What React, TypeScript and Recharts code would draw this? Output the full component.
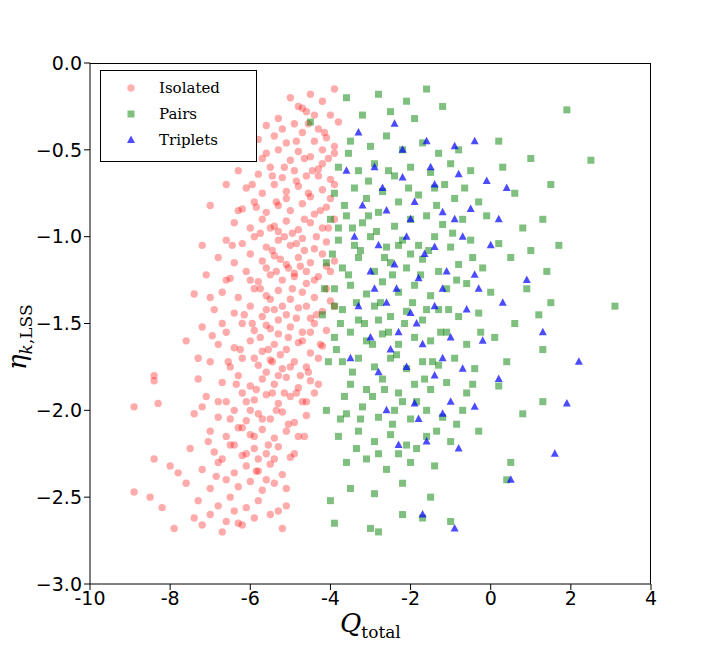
import React from 'react';
import { ScatterChart, Scatter, XAxis, YAxis } from 'recharts';

const isolated: [number, number][] = [
[-4.5,-0.18],[-4.2,-0.22],[-3.9,-0.15],[-4.8,-0.25],[-5.0,-0.2],[-4.4,-0.3],
[-5.3,-0.32],[-4.9,-0.35],[-4.6,-0.28],[-4.3,-0.38],[-4.0,-0.3],[-3.8,-0.34],[-5.6,-0.36],
[-5.8,-0.44],[-5.4,-0.42],[-5.1,-0.46],[-4.7,-0.4],[-4.4,-0.45],[-4.1,-0.43],[-3.9,-0.48],
[-6.0,-0.55],[-5.6,-0.52],[-5.3,-0.5],[-5.0,-0.56],[-4.8,-0.51],[-4.5,-0.54],[-4.2,-0.58],[-3.9,-0.52],
[-6.3,-0.62],[-5.8,-0.64],[-5.5,-0.6],[-5.2,-0.66],[-4.9,-0.62],[-4.6,-0.65],[-4.3,-0.61],[-4.0,-0.67],
[-6.1,-0.72],[-5.7,-0.75],[-5.4,-0.7],[-5.1,-0.74],[-4.8,-0.71],[-4.5,-0.77],[-4.2,-0.73],[-3.9,-0.7],[-6.6,-0.7],
[-7.0,-0.82],[-6.2,-0.84],[-5.9,-0.8],[-5.6,-0.86],[-5.3,-0.82],[-5.0,-0.85],[-4.7,-0.81],[-4.4,-0.87],[-4.1,-0.83],
[-6.4,-0.92],[-6.0,-0.95],[-5.7,-0.9],[-5.4,-0.94],[-5.1,-0.91],[-4.8,-0.96],[-4.5,-0.92],[-4.2,-0.95],[-3.9,-0.9],
[-6.6,-1.02],[-6.2,-1.04],[-5.9,-1.0],[-5.6,-1.06],[-5.3,-1.02],[-5.0,-1.05],[-4.7,-1.01],[-4.4,-1.07],[-4.1,-1.03],[-7.2,-1.05],
[-6.8,-1.12],[-6.4,-1.15],[-6.0,-1.1],[-5.7,-1.14],[-5.4,-1.11],[-5.1,-1.16],[-4.8,-1.12],[-4.5,-1.15],[-4.2,-1.1],[-3.9,-1.14],
[-7.1,-1.22],[-6.5,-1.24],[-6.1,-1.2],[-5.8,-1.26],[-5.5,-1.22],[-5.2,-1.25],[-4.9,-1.21],[-4.6,-1.27],[-4.3,-1.23],[-4.0,-1.2],
[-6.7,-1.32],[-6.3,-1.35],[-5.9,-1.3],[-5.6,-1.34],[-5.3,-1.31],[-5.0,-1.36],[-4.7,-1.32],[-4.4,-1.35],[-4.1,-1.3],[-7.4,-1.33],
[-6.9,-1.42],[-6.4,-1.44],[-6.0,-1.4],[-5.7,-1.46],[-5.4,-1.42],[-5.1,-1.45],[-4.8,-1.41],[-4.5,-1.47],[-4.2,-1.43],[-3.9,-1.4],
[-7.2,-1.52],[-6.6,-1.55],[-6.2,-1.5],[-5.9,-1.54],[-5.6,-1.51],[-5.3,-1.56],[-5.0,-1.52],[-4.7,-1.55],[-4.4,-1.5],[-4.1,-1.54],
[-6.8,-1.62],[-6.4,-1.64],[-6.0,-1.6],[-5.7,-1.66],[-5.4,-1.62],[-5.1,-1.65],[-4.8,-1.61],[-4.5,-1.67],[-4.2,-1.63],[-7.6,-1.6],
[-7.0,-1.72],[-6.5,-1.75],[-6.2,-1.7],[-5.8,-1.74],[-5.5,-1.71],[-5.2,-1.76],[-4.9,-1.72],[-4.6,-1.75],[-4.3,-1.7],
[-8.4,-1.8],[-8.4,-1.83],[-7.3,-1.82],[-6.7,-1.84],[-6.3,-1.8],[-6.0,-1.86],[-5.7,-1.82],[-5.4,-1.85],[-5.1,-1.81],[-4.8,-1.87],[-4.5,-1.83],
[-7.1,-1.92],[-6.6,-1.95],[-6.2,-1.9],[-5.9,-1.94],[-5.6,-1.91],[-5.3,-1.96],[-5.0,-1.92],[-4.7,-1.95],[-4.4,-1.9],
[-8.9,-1.98],[-8.3,-1.96],[-7.4,-2.02],[-6.8,-2.04],[-6.4,-2.0],[-6.1,-2.06],[-5.8,-2.02],[-5.5,-2.05],[-5.2,-2.01],[-4.9,-2.07],[-4.6,-2.03],
[-7.0,-2.12],[-6.6,-2.15],[-6.3,-2.1],[-6.0,-2.14],[-5.7,-2.11],[-5.4,-2.16],[-5.1,-2.12],[-4.8,-2.15],
[-7.5,-2.22],[-6.9,-2.24],[-6.5,-2.2],[-6.2,-2.26],[-5.9,-2.22],[-5.6,-2.25],[-5.3,-2.21],[-5.0,-2.27],
[-8.0,-2.32],[-7.8,-2.36],[-7.2,-2.34],[-6.8,-2.3],[-6.4,-2.36],[-6.1,-2.32],[-5.8,-2.35],[-5.5,-2.31],[-5.2,-2.37],
[-8.4,-2.28],[-7.6,-2.42],[-7.0,-2.45],[-6.6,-2.4],[-6.3,-2.44],[-6.0,-2.41],[-5.7,-2.46],[-5.4,-2.42],
[-8.5,-2.5],[-7.3,-2.52],[-6.8,-2.55],[-6.5,-2.5],[-6.1,-2.56],[-5.8,-2.52],[-5.1,-2.55],[-8.2,-2.56],
[-7.4,-2.62],[-7.0,-2.6],[-6.6,-2.64],[-6.3,-2.65],[-5.9,-2.62],[-5.5,-2.6],
[-7.9,-2.68],[-7.2,-2.66],[-6.7,-2.7],[-6.2,-2.66],[-5.2,-2.68],[-8.9,-2.47],
];

const isolatedCore: [number, number][] = [
[-5.5,-0.95],[-5.3,-0.97],[-5.15,-1.0],[-4.95,-0.98],[-4.85,-1.04],[-4.65,-1.08],[-5.45,-1.08],[-5.25,-1.13],[-5.05,-1.18],[-4.9,-1.23],
[-4.75,-1.17],[-4.6,-1.2],[-4.4,-1.25],[-5.35,-1.2],[-5.6,-1.18],[-5.75,-1.3],[-5.5,-1.36],[-5.2,-1.4],[-4.95,-1.3],[-4.6,-1.4],
[-4.35,-1.45],[-4.85,-1.47],[-5.3,-1.48],[-5.5,-1.53],[-5.75,-1.58],[-5.05,-1.58],[-4.7,-1.6],[-4.5,-1.55],[-5.25,-1.68],[-5.55,-1.65],
[-5.9,-1.7],[-5.6,-1.78],[-5.3,-1.8],[-5.0,-1.75],[-4.75,-1.8],[-4.55,-1.78],[-5.85,-1.88],[-5.45,-1.9],[-5.15,-1.9],[-4.85,-1.9],
[-6.1,-1.95],[-6.0,-2.0],[-5.7,-2.05],[-5.35,-2.0],[-5.05,-2.08],[-6.2,-2.1],[-5.9,-2.15],[-5.55,-2.2],[-6.4,-2.2],[-6.1,-2.25],
[-5.8,-2.28],[-5.4,-2.28],[-4.65,-0.9],[-4.35,-1.0],[-4.25,-0.85],[-4.55,-0.75],[-4.05,-0.95],[-4.3,-0.65],[-4.65,-0.55],[-4.05,-0.55],
[-4.15,-0.4],[-4.55,-0.35],[-4.85,-0.45],[-5.15,-0.6],[-5.35,-0.8],[-5.75,-0.98],[-6.0,-1.25],[-6.15,-1.45],[-5.95,-1.5],[-6.25,-1.65],
[-6.35,-1.85],[-6.5,-2.05],[-6.7,-2.28],[-6.8,-1.95],[-6.55,-1.72],[-6.7,-1.5],[-6.6,-1.25],[-6.45,-1.05],[-6.3,-0.85],[-5.95,-0.7],
[-5.7,-0.55],[-5.2,-0.38],[-4.7,-0.26],[-4.2,-0.5],[-4.0,-0.78],[-4.1,-1.17],[-4.0,-1.37],[-4.25,-1.62],[-4.3,-1.85],[-4.6,-1.95],
[-4.65,-2.15],[-4.9,-2.25],[-5.1,-2.45],[-5.6,-2.4],[-5.3,-2.58],[-6.4,-2.58],[-6.85,-2.38],[-7.05,-2.18],[-7.2,-1.98],[-7.3,-1.7],
[-7.0,-1.35],[-6.95,-1.57],[-5.1,-0.78],[-5.45,-0.65],[-5.85,-0.83],[-4.85,-0.68],[-4.45,-0.62],[-5.6,-1.42],[-5.45,-1.72],[-5.85,-2.35],
];

const pairs: [number, number][] = [
[-3.6,-0.2],[-2.8,-0.18],[-2.1,-0.22],[-1.6,-0.15],[-1.2,-0.25],[-4.5,-0.34],[-3.2,-0.3],[-2.5,-0.28],[-1.9,-0.32],
[-3.5,-0.45],[-3.0,-0.48],[-2.6,-0.42],[-2.2,-0.5],[-1.7,-0.46],[-1.3,-0.52],[-0.8,-0.5],[0.2,-0.45],[1.9,-0.27],[2.5,-0.56],
[-3.8,-0.6],[-3.3,-0.62],[-2.9,-0.58],[-2.4,-0.65],[-2.0,-0.6],[-1.5,-0.63],[-1.0,-0.58],[-0.5,-0.62],[0.3,-0.6],[1.0,-0.55],
[-3.9,-0.75],[-3.4,-0.72],[-3.1,-0.78],[-2.7,-0.74],[-2.3,-0.8],[-1.8,-0.76],[-1.4,-0.72],[-0.9,-0.78],[-0.3,-0.8],[0.6,-0.75],[1.5,-0.7],
[-4.0,-0.9],[-3.6,-0.88],[-3.2,-0.92],[-2.8,-0.86],[-2.4,-0.94],[-2.0,-0.9],[-1.6,-0.88],[-1.2,-0.93],[-0.7,-0.9],[-0.1,-0.88],[0.8,-0.95],[1.3,-0.9],
[-3.8,-1.02],[-3.4,-1.05],[-3.0,-1.0],[-2.6,-1.06],[-2.2,-1.02],[-1.8,-1.05],[-1.4,-1.0],[-1.0,-1.06],[-0.5,-1.02],[0.2,-1.04],[1.0,-1.08],[1.7,-1.05],
[-4.1,-1.15],[-3.7,-1.18],[-3.3,-1.12],[-2.9,-1.2],[-2.5,-1.15],[-2.1,-1.18],[-1.7,-1.13],[-1.3,-1.2],[-0.8,-1.16],[-0.2,-1.18],[0.5,-1.12],[1.4,-1.2],
[-3.9,-1.3],[-3.5,-1.28],[-3.1,-1.33],[-2.7,-1.26],[-2.3,-1.32],[-1.9,-1.28],[-1.5,-1.34],[-1.1,-1.3],[-0.6,-1.27],[0.0,-1.32],[0.9,-1.3],[1.5,-1.38],
[-4.2,-1.45],[-3.7,-1.42],[-3.3,-1.48],[-2.9,-1.4],[-2.5,-1.46],[-2.1,-1.43],[-1.7,-1.48],[-1.3,-1.42],[-0.8,-1.46],[-0.3,-1.44],[0.6,-1.5],[1.2,-1.45],[3.1,-1.4],
[-3.9,-1.58],[-3.5,-1.55],[-3.1,-1.6],[-2.7,-1.56],[-2.3,-1.62],[-1.9,-1.58],[-1.5,-1.6],[-1.1,-1.55],[-0.6,-1.62],[0.1,-1.58],[1.3,-1.65],
[-3.7,-1.72],[-3.3,-1.7],[-2.9,-1.75],[-2.5,-1.7],[-2.1,-1.76],[-1.7,-1.72],[-1.3,-1.74],[-0.9,-1.7],[-0.4,-1.76],[0.4,-1.72],
[-3.5,-1.85],[-3.1,-1.88],[-2.7,-1.82],[-2.3,-1.9],[-1.9,-1.85],[-1.5,-1.88],[-1.1,-1.84],[-0.6,-1.9],[0.2,-1.86],[1.3,-1.95],
[-4.1,-2.0],[-3.6,-2.02],[-3.2,-1.98],[-2.8,-2.04],[-2.4,-2.0],[-2.0,-2.05],[-1.6,-2.0],[-1.2,-2.04],[-0.7,-2.0],[0.8,-2.02],
[-3.8,-2.15],[-3.3,-2.12],[-2.9,-2.18],[-2.5,-2.14],[-2.1,-2.2],[-1.6,-2.15],[-1.0,-2.18],[-0.3,-2.12],
[-3.6,-2.3],[-3.1,-2.28],[-2.6,-2.34],[-2.0,-2.3],[-1.4,-2.32],[0.5,-2.3],
[-4.0,-2.52],[-3.5,-2.45],[-2.9,-2.48],[-2.2,-2.42],[-1.5,-2.5],[0.4,-2.4],
[-3.9,-2.65],[-3.0,-2.68],[-2.8,-2.7],[-2.2,-2.6],[-1.7,-2.62],[-1.0,-2.64],
];

const pairsCore: [number, number][] = [
[-3.65,-0.82],[-3.45,-0.95],[-3.25,-1.08],[-3.05,-0.88],[-2.85,-0.97],[-2.65,-1.12],[-2.45,-1.22],[-3.55,-1.22],[-3.35,-1.38],[-3.15,-1.5],
[-2.95,-1.62],[-2.75,-1.38],[-2.55,-1.55],[-2.35,-1.68],[-2.15,-1.5],[-1.95,-1.38],[-1.75,-1.22],[-1.55,-1.08],[-1.35,-0.82],[-2.05,-0.72],
[-2.55,-0.62],[-3.05,-0.68],[-3.55,-0.52],[-3.75,-1.5],[-3.85,-1.65],[-3.65,-1.92],[-3.45,-1.78],[-3.25,-2.05],[-2.95,-1.92],[-2.65,-1.88],
[-2.45,-2.08],[-2.2,-1.95],[-1.85,-1.95],[-1.65,-1.82],[-1.45,-1.72],[-1.25,-1.55],[-1.05,-1.42],[-0.85,-1.25],[-0.95,-0.98],[-1.15,-0.7],
[-0.65,-0.72],[-0.45,-1.12],[-0.25,-1.55],[-0.45,-1.85],[-0.85,-2.08],[-1.35,-2.12],[-1.85,-2.22],[-2.3,-2.25],[-2.8,-2.25],[-3.35,-2.22],
[-3.9,-1.4],[-3.95,-1.1],[-3.8,-0.95],[-4.15,-1.3],[-4.05,-1.72],[-3.75,-2.05],[-2.0,-1.1],[-1.6,-1.42],[-2.3,-1.05],[-2.8,-1.48],
];

const triplets: [number, number][] = [
[-3.3,-0.4],[-2.4,-0.35],[-1.6,-0.45],[-0.9,-0.48],[-0.4,-0.45],
[-3.6,-0.62],[-2.9,-0.6],[-2.2,-0.66],[-1.5,-0.6],[-0.8,-0.64],[-0.1,-0.68],[0.4,-0.72],
[-3.2,-0.82],[-2.6,-0.85],[-1.9,-0.8],[-1.2,-0.86],[-0.5,-0.84],[0.2,-0.9],
[-3.4,-1.0],[-2.8,-1.05],[-2.1,-1.0],[-1.4,-1.06],[-0.7,-1.0],[0.0,-1.05],
[-3.0,-1.2],[-2.4,-1.16],[-1.8,-1.24],[-1.1,-1.2],[-0.4,-1.22],[0.9,-1.25],
[-3.3,-1.4],[-2.6,-1.38],[-2.0,-1.44],[-1.4,-1.4],[-0.6,-1.42],[0.3,-1.38],
[-3.0,-1.58],[-2.3,-1.55],[-1.7,-1.62],[-1.0,-1.58],[-0.2,-1.6],[2.2,-1.72],[1.3,-1.55],
[-2.8,-1.78],[-2.1,-1.75],[-1.4,-1.8],[-0.7,-1.76],[0.2,-1.82],
[-2.6,-2.0],[-1.9,-1.96],[-1.2,-2.02],[-0.4,-1.98],[1.9,-1.96],
[-2.3,-2.2],[-1.6,-2.18],[-0.8,-2.22],[1.6,-2.25],
[-1.7,-2.6],[-0.9,-2.68],[0.5,-2.4],
[-2.7,-0.72],[-2.0,-0.9],[-1.65,-1.1],[-2.35,-1.3],[-1.2,-1.3],[-2.9,-1.3],[-1.85,-1.5],[-1.2,-1.7],[-2.5,-1.65],[-0.9,-0.9],
[-1.4,-0.7],[-2.2,-0.5],[-1.0,-1.95],[-1.8,-2.05],[-3.5,-1.7],[-0.3,-1.3],
];

const xTicks = [-10, -8, -6, -4, -2, 0, 2, 4];
const yTicks = [0, -0.5, -1, -1.5, -2, -2.5, -3];

const toPts = (a: [number, number][]) => a.map(([x, y]) => ({ x, y }));

const Square = (p: any) => <rect x={p.cx - 3.5} y={p.cy - 3.5} width={7} height={7} fill="green" fillOpacity={0.5} />;
const Tri = (p: any) => <polygon points={`${p.cx},${p.cy - 4.5} ${p.cx - 4},${p.cy + 3} ${p.cx + 4},${p.cy + 3}`} fill="blue" fillOpacity={0.7} />;
const Circ = (p: any) => <circle cx={p.cx} cy={p.cy} r={3.7} fill="red" fillOpacity={0.33} />;

const tickStyle = { fontFamily: 'DejaVu Sans', fontSize: 19, fill: '#000' };

export default function App() {
  return (
    <div style={{ position: 'absolute', left: 0, top: 0, width: 721, height: 649, background: '#fff' }}>
      <ScatterChart width={721} height={649} margin={{ top: 63, right: 70, bottom: 0, left: 0 }}>
        <XAxis type="number" dataKey="x" domain={[-10, 4]} ticks={xTicks} height={65} tick={tickStyle}
          axisLine={{ stroke: '#000' }} tickLine={{ stroke: '#000' }} allowDataOverflow />
        <YAxis type="number" dataKey="y" domain={[-3, 0]} ticks={yTicks} width={90} tick={tickStyle}
          tickFormatter={(v: number) => v.toFixed(1).replace('-', '\u2212')}
          axisLine={{ stroke: '#000' }} tickLine={{ stroke: '#000' }} allowDataOverflow />
        <Scatter data={toPts(isolated)} shape={Circ} isAnimationActive={false} />
        <Scatter data={toPts(isolatedCore)} shape={Circ} isAnimationActive={false} />
        <Scatter data={toPts(pairs)} shape={Square} isAnimationActive={false} />
        <Scatter data={toPts(pairsCore)} shape={Square} isAnimationActive={false} />
        <Scatter data={toPts(triplets)} shape={Tri} isAnimationActive={false} />
      </ScatterChart>
      <div style={{ position: 'absolute', left: 90, top: 63, width: 561, height: 521, borderTop: '1px solid #000', borderRight: '1px solid #000', boxSizing: 'border-box', pointerEvents: 'none' }} />
      <div style={{ position: 'absolute', left: 100, top: 70, width: 155, height: 90, border: '1px solid #000', background: '#fff', fontFamily: 'DejaVu Serif', fontSize: 15 }}>
        {[['Isolated', 'c'], ['Pairs', 's'], ['Triplets', 't']].map(([l, s], i) => (
          <div key={l} style={{ position: 'absolute', top: 8 + i * 26, left: 10, display: 'flex', alignItems: 'center' }}>
            <svg width={40} height={14}>
              {s === 'c' && <circle cx={20} cy={7} r={3.7} fill="red" fillOpacity={0.3} />}
              {s === 's' && <rect x={16.5} y={3.5} width={7} height={7} fill="green" fillOpacity={0.5} />}
              {s === 't' && <polygon points="20,2.5 16,10 24,10" fill="blue" fillOpacity={0.7} />}
            </svg>
            <span style={{ marginLeft: 8 }}>{l}</span>
          </div>
        ))}
      </div>
      <div style={{ position: 'absolute', left: 340, top: 608, fontFamily: 'DejaVu Serif', fontSize: 26 }}>
        <i>Q</i><sub style={{ fontSize: 17 }}>total</sub>
      </div>
      <div style={{ position: 'absolute', left: 2, top: 330, transform: 'rotate(-90deg)', transformOrigin: 'left top', fontFamily: 'DejaVu Serif', fontSize: 26, whiteSpace: 'nowrap', marginTop: 40 }}>
        <i>η</i><sub style={{ fontSize: 17 }}><i>k</i>,LSS</sub>
      </div>
    </div>
  );
}
